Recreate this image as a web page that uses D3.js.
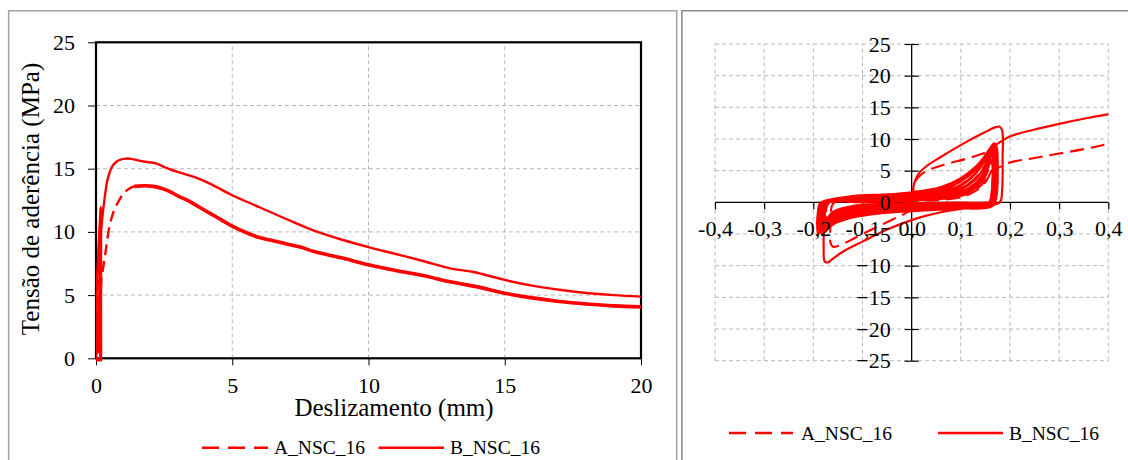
<!DOCTYPE html>
<html><head><meta charset="utf-8">
<script src="https://cdn.jsdelivr.net/npm/d3@7"></script>
<style>
html,body{margin:0;padding:0;background:#fff;}
svg{display:block;font-family:"Liberation Serif","Times New Roman",Tinos,"DejaVu Serif",serif;}
</style></head>
<body>
<svg id="chart" width="1128" height="460"></svg>
<script>
// ---------------- DATA ----------------
const seriesNames = ["A_NSC_16", "B_NSC_16"];

const leftXTicks = [0, 5, 10, 15, 20];
const leftYTicks = [0, 5, 10, 15, 20, 25];
const rightXTicks = [-0.4, -0.3, -0.2, -0.1, 0, 0.1, 0.2, 0.3, 0.4];
const rightXLabels = ["-0,4", "-0,3", "-0,2", "-0,1", "0,0", "0,1", "0,2", "0,3", "0,4"];
const rightYTicks = [-25, -20, -15, -10, -5, 0, 5, 10, 15, 20, 25];

// B_NSC_16 – first cycle (slip mm, bond stress MPa)
const bFirstLoop = [
  [0,0],[0.002,1.6],[0.006,3.2],[0.014,4.5],[0.03,5.7],[0.06,7.2],[0.09,8.6],[0.12,9.9],[0.15,11.1],
  [0.168,11.8],[0.179,11.95],[0.184,11.4],[0.185,7],[0.184,2],[0.179,0],
  [0.13,-0.7],[0.07,-1.4],[0.03,-2.1],[0,-2.8],[-0.05,-4.3],[-0.1,-6.2],[-0.14,-7.8],[-0.162,-9.0],
  [-0.171,-9.5],[-0.177,-9.3],[-0.179,-7],[-0.178,-3],[-0.175,-0.3]
];
// B_NSC_16 – following cycles
const bInnerLoops = [
  [-0.15,0.45],[-0.1,0.75],[-0.05,1.0],[0,1.35],[0.05,2.0],[0.09,3.2],[0.12,4.8],[0.145,6.9],[0.16,8.6],
  [0.168,9.3],[0.173,8.7],[0.175,5],[0.173,1.2],[0.166,-0.35],
  [0.1,-0.75],[0.03,-1.0],[-0.05,-1.35],[-0.11,-1.95],[-0.155,-2.95],[-0.178,-4.3],[-0.186,-4.5],
  [-0.188,-2.6],[-0.184,-0.4],[-0.172,0.25],

  [-0.12,1.0],[-0.05,1.25],[0,1.6],[0.06,2.4],[0.1,3.8],[0.13,5.6],[0.15,7.4],[0.163,8.8],[0.168,9.1],
  [0.172,8.4],[0.173,4.5],[0.171,0.8],[0.164,-0.6],
  [0.1,-1.0],[0.02,-1.3],[-0.06,-1.7],[-0.12,-2.4],[-0.16,-3.5],[-0.177,-4.7],[-0.183,-5.0],
  [-0.186,-4.2],[-0.185,-2],[-0.18,-0.2],[-0.168,0.4],

  [-0.12,0.6],[-0.05,0.85],[0,1.15],[0.06,1.9],[0.1,3.3],[0.13,5.1],[0.15,7.0],[0.162,8.5],[0.166,8.9],
  [0.17,8.3],[0.171,4],[0.168,0.5],[0.16,-0.35],
  [0.1,-0.45],[0.02,-0.7],[-0.06,-1.0],[-0.12,-1.5],[-0.16,-2.5],[-0.182,-3.7],[-0.188,-4.0],
  [-0.19,-3.2],[-0.189,-1.5],[-0.183,0],[-0.17,0.35],

  [-0.12,0.6],[-0.05,0.85],[0,1.1],[0.06,1.7],[0.1,2.8],[0.13,4.6],[0.152,7.0],[0.164,8.7],[0.169,8.5],
  [0.171,4.5],[0.168,0.7],[0.16,-0.5],
  [0.09,-0.65],[0.02,-0.9],[-0.06,-1.2],[-0.12,-1.75],[-0.16,-2.8],[-0.182,-4.0],[-0.187,-3.6],
  [-0.186,-1.5],[-0.18,0],[-0.168,0.35],

  [-0.12,0.4],[-0.05,0.55],[0,0.75],[0.06,1.2],[0.1,2.0],[0.13,3.6],[0.15,5.8],[0.161,7.6],[0.165,8.3],
  [0.168,7.7],[0.169,3.5],[0.166,0.3],[0.158,-0.2],
  [0.1,-0.2],[0.02,-0.35],[-0.06,-0.55],[-0.12,-0.95],[-0.16,-1.9],[-0.183,-4.2],[-0.19,-5.0],
  [-0.192,-4.0],[-0.191,-1.8],[-0.186,-0.1],[-0.172,0.3],

  [-0.1,0.55],[-0.03,0.75],[0.02,1.0],[0.07,1.5],[0.11,2.6],[0.14,4.6],[0.157,7.1],[0.165,8.7],
  [0.168,8.2],[0.169,4],[0.166,0.5],[0.158,-0.4],
  [0.1,-0.55],[0.03,-0.8],[-0.04,-1.05],[-0.1,-1.5],[-0.15,-2.4],[-0.178,-3.6],[-0.185,-3.3],
  [-0.184,-1.3],[-0.178,0.1],[-0.165,0.45],

  [-0.12,0.2],[-0.05,0.3],[0,0.5],[0.06,0.9],[0.1,1.6],[0.13,3.0],[0.15,5.0],[0.16,6.9],[0.163,7.6],
  [0.166,7.0],[0.166,3],[0.163,0.2],[0.155,-0.1],
  [0.1,-0.1],[0.02,-0.2],[-0.06,-0.4],[-0.12,-0.8],[-0.16,-1.7],[-0.18,-3.8],[-0.186,-4.7],
  [-0.188,-3.8],[-0.187,-1.6],[-0.182,-0.1],[-0.17,0.2],

  [-0.11,0.5],[-0.04,0.65],[0.01,0.85],[0.07,1.3],[0.1,1.6],[0.13,3.0],[0.15,5.2],[0.158,7.2],
  [0.164,9.0],[0.167,8.4],[0.168,3.5],[0.164,0.3],[0.156,-0.3],
  [0.1,-0.45],[0.04,-0.65],[-0.03,-0.9],[-0.09,-1.3],[-0.14,-2.0],[-0.172,-3.2],[-0.182,-3.0],
  [-0.181,-1.2],[-0.175,0],[-0.16,0.5],

  [-0.12,0.05],[-0.05,0.15],[0,0.35],[0.06,0.7],[0.1,1.3],[0.13,2.6],[0.15,4.4],[0.158,6.0],[0.161,6.8],
  [0.164,6.2],[0.164,2.5],[0.16,0.1],[0.152,-0.05],
  [0.1,-0.05],[0.02,-0.1],[-0.06,-0.25],[-0.12,-0.6],[-0.16,-1.5],[-0.178,-3.4],[-0.183,-4.2],
  [-0.185,-3.4],[-0.184,-1.4],[-0.179,-0.1],[-0.166,0.25],

  [-0.1,0.45],[-0.03,0.55],[0.03,0.8],[0.08,1.25],[0.12,2.4],[0.145,4.4],[0.16,6.9],[0.166,8.0],
  [0.168,7.2],[0.167,3],[0.162,0.2],[0.153,-0.2],
  [0.1,-0.35],[0.04,-0.5],[-0.03,-0.75],[-0.09,-1.1],[-0.14,-1.8],[-0.17,-2.8],[-0.18,-2.7],
  [-0.179,-1.0],[-0.172,0.1],[-0.155,0.55],

  [-0.1,0.4],[-0.02,0.45],[0.04,0.65],[0.09,1.1],[0.12,1.8],[0.145,3.6],[0.158,6.0],[0.164,6.4],
  [0.165,2.5],[0.16,0],[0.15,-0.15],
  [0.1,-0.3],[0.03,-0.45],[-0.04,-0.65],[-0.1,-1.0],[-0.145,-1.7],[-0.172,-2.6],[-0.178,-2.2],
  [-0.176,-0.8],[-0.168,0.2],[-0.15,0.5],

  [-0.1,0.5],[-0.05,0.7],[0,0.95],[0.06,1.5],[0.1,2.6],[0.13,4.5],[0.152,6.9],[0.165,8.7]
];
// B_NSC_16 – monotonic part
const bEnvelope = [
  [0.17,9.0],[0.2,10.4],[0.25,11.5],[0.3,12.4],[0.35,13.2],[0.4,13.9],[0.5,14.7],[0.6,15.2],
  [0.75,15.55],[0.9,15.72],[1.1,15.8],[1.3,15.78],[1.5,15.68],[1.8,15.55],[2.2,15.42],[2.6,15.05],
  [3.0,14.75],[3.6,14.35],[4.2,13.8],[5.0,12.9],[6.0,11.95],[7.0,11.0],[8.0,10.1],[9.0,9.4],
  [10.0,8.8],[11.0,8.25],[12.0,7.7],[13.0,7.12],[13.8,6.85],[14.2,6.65],[15.0,6.2],[16.0,5.75],
  [17.0,5.42],[18.0,5.17],[19.0,5.0],[20.0,4.88]
];

// A_NSC_16 – first cycle
const aFirstLoop = [
  [0,0],[0.003,1.8],[0.007,3.25],[0.027,4.8],[0.064,5.9],[0.112,6.9],[0.145,7.7],[0.158,8.0],
  [0.164,7.6],[0.165,4],[0.162,0.6],[0.155,-0.25],
  [0.1,-0.55],[0.04,-0.85],[0,-1.3],[-0.02,-2.0],[-0.06,-3.5],[-0.1,-5.0],[-0.13,-6.2],[-0.15,-6.9],
  [-0.16,-7.0],[-0.165,-6.4],[-0.165,-3.5],[-0.162,-0.5],[-0.155,0.1]
];
// A_NSC_16 – following cycles
const aInnerLoops = [
  [-0.12,0.35],[-0.06,0.5],[0,0.7],[0.06,1.15],[0.1,2.1],[0.13,3.9],[0.15,5.9],[0.16,7.2],
  [0.164,6.6],[0.164,2.5],[0.16,-0.1],[0.152,-0.35],
  [0.1,-0.5],[0.02,-0.7],[-0.06,-1.0],[-0.12,-1.6],[-0.155,-2.6],[-0.172,-3.6],[-0.177,-3.3],
  [-0.176,-1.4],[-0.17,0],[-0.158,0.3],
  [-0.1,0.35],[-0.03,0.5],[0.03,0.75],[0.08,1.2],[0.12,2.4],[0.145,4.4],[0.158,6.5],[0.163,6.3],
  [0.163,2],[0.158,-0.1],[0.148,-0.3],
  [0.09,-0.4],[0.02,-0.55],[-0.05,-0.8],[-0.11,-1.3],[-0.15,-2.2],[-0.17,-3.2],[-0.175,-2.9],
  [-0.174,-1.2],[-0.168,0.05],[-0.15,0.3],
  [-0.09,0.25],[-0.02,0.35],[0.04,0.55],[0.09,1.0],[0.125,2.0],[0.148,3.8],[0.16,5.6],[0.164,5.3],
  [0.163,1.8],[0.157,-0.1],[0.145,-0.25],
  [0.08,-0.3],[0,-0.45],[-0.07,-0.7],[-0.12,-1.1],[-0.155,-1.9],[-0.172,-2.8],[-0.176,-2.4],
  [-0.174,-0.8],[-0.165,0.1],[-0.14,0.25],
  [-0.08,0.1],[-0.01,0.15],[0.05,0.35],[0.1,0.8],[0.13,1.8],[0.152,3.4],[0.162,4.8],[0.165,4.5],
  [0.164,1.5],[0.158,-0.05],[0.145,-0.15],
  [0.08,-0.15],[0,-0.3],[-0.07,-0.5],[-0.12,-0.9],[-0.155,-1.7],[-0.172,-2.5],[-0.176,-2.1],
  [-0.174,-0.6],[-0.165,0.05],[-0.14,0.15],
  [-0.08,0.2],[-0.01,0.3],[0.05,0.5],[0.1,1.0],[0.13,2.0],[0.152,3.6],[0.163,5.0]
];
// A_NSC_16 – monotonic part
const aEnvelope = [
  [0.17,5.3],[0.18,5.6],[0.2,6.3],[0.25,7.0],[0.3,7.7],[0.35,8.4],[0.4,9.2],[0.5,10.5],[0.6,11.3],
  [0.7,11.9],[0.85,12.5],[1.0,13.0],[1.2,13.4],[1.4,13.6],[1.8,13.65],[2.1,13.6],[2.4,13.45],
  [2.7,13.2],[3.0,12.85],[3.4,12.45],[3.8,11.95],[4.2,11.45],[4.6,10.95],[5.0,10.45],[5.5,9.95],
  [6.0,9.55],[6.5,9.3],[7.0,9.05],[7.5,8.8],[8.0,8.45],[9.0,7.95],[10.0,7.4],[11.0,6.95],
  [12.0,6.55],[13.0,6.05],[14.0,5.65],[15.0,5.15],[16.0,4.78],[17.0,4.5],[18.0,4.3],[19.0,4.15],
  [20.0,4.07]
];

// ---------------- DRAWING ----------------
const RED = "#ff0000";
const GRID = "#b8b8b8";
const FONT = "'Liberation Serif','Times New Roman',Tinos,'DejaVu Serif',serif";
const svg = d3.select("#chart");
const defs = svg.append("defs");

const seriesA = aFirstLoop.concat(aInnerLoops, aEnvelope);
const seriesB = bFirstLoop.concat(bInnerLoops, bEnvelope);

// panel frames
svg.append("path").attr("d", "M8.7,460 V10.7 H676.7 V460")
  .attr("fill", "none").attr("stroke", "#a6a6a6").attr("stroke-width", 1.6);
svg.append("path").attr("d", "M681.9,460 V10.7 H1128")
  .attr("fill", "none").attr("stroke", "#8c8c8c").attr("stroke-width", 1.6);

// ======== LEFT CHART ========
const xL = d3.scaleLinear().domain([0, 20]).range([96, 641]);
const yL = d3.scaleLinear().domain([0, 25]).range([358.3, 42.3]);

const gL = svg.append("g");
gL.selectAll("line.hg").data(leftYTicks.filter(v => v > 0 && v < 25)).join("line")
  .attr("x1", xL(0)).attr("x2", xL(20)).attr("y1", d => yL(d)).attr("y2", d => yL(d))
  .attr("stroke", GRID).attr("stroke-width", 1).attr("stroke-dasharray", "4,3");
gL.selectAll("line.vg").data(leftXTicks.filter(v => v > 0 && v < 20)).join("line")
  .attr("y1", yL(0)).attr("y2", yL(25)).attr("x1", d => xL(d)).attr("x2", d => xL(d))
  .attr("stroke", GRID).attr("stroke-width", 1).attr("stroke-dasharray", "4,3");

const axL = gL.append("g").attr("transform", `translate(${xL(0)},0)`)
  .call(d3.axisLeft(yL).tickValues(leftYTicks).tickSize(8).tickPadding(13));
const axB = gL.append("g").attr("transform", `translate(0,${yL(0)})`)
  .call(d3.axisBottom(xL).tickValues(leftXTicks).tickSize(7).tickPadding(12));
[axL, axB].forEach(a => {
  a.attr("font-family", FONT);
  a.select(".domain").remove();
  a.selectAll("line").attr("stroke", "#000").attr("stroke-width", 1);
  a.selectAll("text").attr("font-size", 22).attr("fill", "#000").attr("font-family", FONT);
});

gL.append("rect").attr("x", xL(0)).attr("y", yL(25))
  .attr("width", xL(20) - xL(0)).attr("height", yL(0) - yL(25))
  .attr("fill", "none").attr("stroke", "#000").attr("stroke-width", 2.2);

defs.append("clipPath").attr("id", "clipL").append("rect")
  .attr("x", xL(0)).attr("y", yL(25) - 2).attr("width", xL(20) - xL(0) + 2)
  .attr("height", yL(0) - yL(25) + 5);

const lineL = d3.line().x(d => xL(d[0])).y(d => yL(d[1])).curve(d3.curveCatmullRom.alpha(0.5));
const serL = gL.append("g").attr("clip-path", "url(#clipL)");
serL.append("path").attr("d", lineL(seriesA)).attr("fill", "none").attr("stroke", RED)
  .attr("stroke-width", 2.4).attr("stroke-dasharray", "11,6");
// the noisy measured region of A renders as a dense band in the original
serL.append("path").attr("d", lineL(aEnvelope.filter(d => d[0] >= 1.4)))
  .attr("fill", "none").attr("stroke", RED).attr("stroke-width", 3.6);
serL.append("path").attr("d", lineL(seriesB)).attr("fill", "none").attr("stroke", RED)
  .attr("stroke-width", 2.4);

gL.append("text").attr("x", 394).attr("y", 416).attr("text-anchor", "middle")
  .attr("font-size", 25).attr("font-family", FONT).text("Deslizamento (mm)");
gL.append("text").attr("transform", "translate(39,199) rotate(-90)").attr("text-anchor", "middle")
  .attr("font-size", 25).attr("font-family", FONT).text("Tensão de aderência (MPa)");

function legend(g, y0, positions) {
  positions.forEach((p, i) => {
    g.append("line").attr("x1", p.l1).attr("x2", p.l2).attr("y1", y0).attr("y2", y0)
      .attr("stroke", RED).attr("stroke-width", 2.6)
      .attr("stroke-dasharray", i === 0 ? "17,9" : null);
    g.append("text").attr("x", p.t).attr("y", y0 + 6.7).attr("font-size", 19.5)
      .attr("font-family", FONT).text(seriesNames[i]);
  });
}
legend(gL, 447.7, [{l1: 202, l2: 268, t: 274}, {l1: 378.5, l2: 444, t: 450}]);

// ======== RIGHT CHART ========
const xR = d3.scaleLinear().domain([-0.4, 0.4]).range([715, 1108.3]);
const yR = d3.scaleLinear().domain([-25, 25]).range([360.7, 44]);
const gR = svg.append("g");

gR.selectAll("line.hg").data(rightYTicks.filter(v => v !== 0)).join("line")
  .attr("x1", xR(-0.4)).attr("x2", xR(0.4)).attr("y1", d => yR(d)).attr("y2", d => yR(d))
  .attr("stroke", GRID).attr("stroke-width", 1).attr("stroke-dasharray", "4,3");
gR.selectAll("line.vg").data(rightXTicks.filter(v => v !== 0)).join("line")
  .attr("y1", yR(-25)).attr("y2", yR(25)).attr("x1", d => xR(d)).attr("x2", d => xR(d))
  .attr("stroke", GRID).attr("stroke-width", 1).attr("stroke-dasharray", "4,3");

const axRy = gR.append("g").attr("transform", `translate(${xR(0)},0)`)
  .call(d3.axisLeft(yR).tickValues(rightYTicks).tickSize(7).tickFormat(""));
axRy.selectAll(".tick line").attr("x1", 7);
const axRx = gR.append("g").attr("transform", `translate(0,${yR(0)})`)
  .call(d3.axisBottom(xR).tickValues(rightXTicks).tickSize(7).tickFormat(""));
[axRy, axRx].forEach(a => {
  a.select(".domain").attr("stroke", "#000").attr("stroke-width", 1.3);
  a.selectAll("line").attr("stroke", "#000").attr("stroke-width", 1.2);
});
axRx.select(".domain").attr("d", `M${xR(-0.4)},0H${xR(0.4)}`);
axRy.select(".domain").attr("d", `M0,${yR(-25)}V${yR(25)}`);

defs.append("clipPath").attr("id", "clipR").append("rect")
  .attr("x", xR(-0.4)).attr("y", yR(25)).attr("width", xR(0.4) - xR(-0.4))
  .attr("height", yR(-25) - yR(25));
const lineR = d3.line().x(d => xR(d[0])).y(d => yR(d[1])).curve(d3.curveCatmullRom.alpha(0.5));
const serR = gR.append("g").attr("clip-path", "url(#clipR)");
serR.append("path").attr("d", lineR(seriesA)).attr("fill", "none").attr("stroke", RED)
  .attr("stroke-width", 2.1).attr("stroke-dasharray", "14,7");
serR.append("path").attr("d", lineR(seriesB)).attr("fill", "none").attr("stroke", RED)
  .attr("stroke-width", 2.2);

const labRy = gR.append("g").attr("transform", `translate(${xR(0)},0)`)
  .call(d3.axisLeft(yR).tickValues(rightYTicks).tickSize(0).tickPadding(21));
const labRx = gR.append("g").attr("transform", `translate(0,${yR(0)})`)
  .call(d3.axisBottom(xR).tickValues(rightXTicks).tickSize(0).tickPadding(18.5)
    .tickFormat((d, i) => rightXLabels[i]));
[labRy, labRx].forEach(a => {
  a.attr("font-family", FONT);
  a.select(".domain").remove();
  a.selectAll("line").remove();
  a.selectAll("text").attr("font-size", 22).attr("fill", "#000").attr("font-family", FONT);
});

legend(gR, 433, [{l1: 729, l2: 793, t: 801}, {l1: 938, l2: 1003, t: 1009}]);
</script>
</body></html>
